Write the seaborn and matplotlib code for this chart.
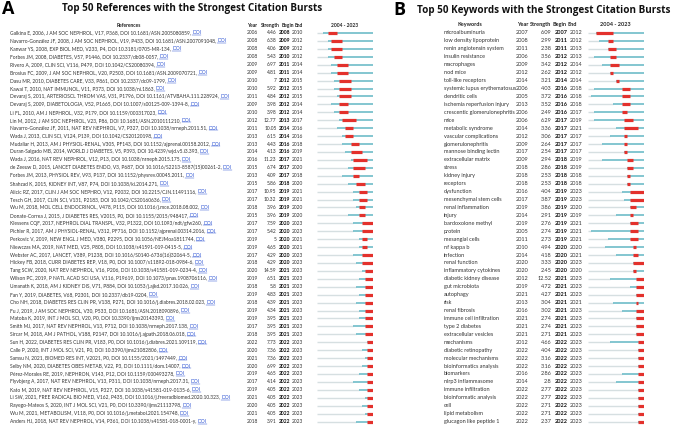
import numpy as np
import matplotlib
matplotlib.use("Agg")
import matplotlib.pyplot as plt
import seaborn as sns

# ---- panel A: references ----
ref_labels = [
    "Galkina E, 2006, J AM SOC NEPHROL, V17, P368, DOI 10.1681/ASN.2005080859,",
    "Navarro-González JF, 2008, J AM SOC NEPHROL, V19, P433, DOI 10.1681/ASN.2007091048,",
    "Kanwar YS, 2008, EXP BIOL MED, V233, P4, DOI 10.3181/0705-MR-134,",
    "Forbes JM, 2008, DIABETES, V57, P1446, DOI 10.2337/db08-0057,",
    "Rivero A, 2009, CLIN SCI, V116, P479, DOI 10.1042/CS20080394,",
    "Brosius FC, 2009, J AM SOC NEPHROL, V20, P2503, DOI 10.1681/ASN.2009070721,",
    "Dasu MR, 2010, DIABETES CARE, V33, P861, DOI 10.2337/dc09-1799,",
    "Kawai T, 2010, NAT IMMUNOL, V11, P373, DOI 10.1038/ni.1863,",
    "Devaraj S, 2011, ARTERIOSCL THROM VAS, V31, P1796, DOI 10.1161/ATVBAHA.111.228924,",
    "Devaraj S, 2009, DIABETOLOGIA, V52, P1665, DOI 10.1007/s00125-009-1394-8,",
    "Li FL, 2010, AM J NEPHROL, V32, P179, DOI 10.1159/000317023,",
    "Lin M, 2012, J AM SOC NEPHROL, V23, P86, DOI 10.1681/ASN.2010111210,",
    "Navarro-González JF, 2011, NAT REV NEPHROL, V7, P327, DOI 10.1038/nrneph.2011.51,",
    "Wada J, 2013, CLIN SCI, V124, P139, DOI 10.1042/CS20120198,",
    "Mudaliar H, 2013, AM J PHYSIOL-RENAL, V305, PF143, DOI 10.1152/ajprenal.00158.2012,",
    "Duran-Salgado MB, 2014, WORLD J DIABETES, V5, P393, DOI 10.4239/wjd.v5.i3.393,",
    "Wada J, 2016, NAT REV NEPHROL, V12, P13, DOI 10.1038/nrneph.2015.175,",
    "de Zeeuw D, 2015, LANCET DIABETES ENDO, V3, P687, DOI 10.1016/S2213-8587(15)00261-2,",
    "Forbes JM, 2013, PHYSIOL REV, V93, P137, DOI 10.1152/physrev.00045.2011,",
    "Shahzad K, 2015, KIDNEY INT, V87, P74, DOI 10.1038/ki.2014.271,",
    "Alicic RZ, 2017, CLIN J AM SOC NEPHRO, V12, P2032, DOI 10.2215/CJN.11491116,",
    "Tesch GH, 2017, CLIN SCI, V131, P2183, DOI 10.1042/CS20160636,",
    "Wu M, 2018, MOL CELL ENDOCRINOL, V478, P115, DOI 10.1016/j.mce.2018.08.002,",
    "Donate-Correa J, 2015, J DIABETES RES, V2015, P0, DOI 10.1155/2015/948417,",
    "Klessens CQF, 2017, NEPHROL DIAL TRANSPL, V32, P1322, DOI 10.1093/ndt/gfw260,",
    "Pichler R, 2017, AM J PHYSIOL-RENAL, V312, PF716, DOI 10.1152/ajprenal.00314.2016,",
    "Perkovic V, 2019, NEW ENGL J MED, V380, P2295, DOI 10.1056/NEJMoa1811744,",
    "Niewczas MA, 2019, NAT MED, V25, P805, DOI 10.1038/s41591-019-0415-5,",
    "Webster AC, 2017, LANCET, V389, P1238, DOI 10.1016/S0140-6736(16)32064-5,",
    "Hickey FB, 2018, CURR DIABETES REP, V18, P0, DOI 10.1007/s11892-018-0984-6,",
    "Tang SCW, 2020, NAT REV NEPHROL, V16, P206, DOI 10.1038/s41581-019-0234-4,",
    "Wilson PC, 2019, P NATL ACAD SCI USA, V116, P19619, DOI 10.1073/pnas.1908706116,",
    "Umanath K, 2018, AM J KIDNEY DIS, V71, P884, DOI 10.1053/j.ajkd.2017.10.026,",
    "Fan Y, 2019, DIABETES, V68, P2301, DOI 10.2337/db19-0204,",
    "Cho NH, 2018, DIABETES RES CLIN PR, V138, P271, DOI 10.1016/j.diabres.2018.02.023,",
    "Fu J, 2019, J AM SOC NEPHROL, V30, P533, DOI 10.1681/ASN.2018090896,",
    "Matoba K, 2019, INT J MOL SCI, V20, P0, DOI 10.3390/ijms20143393,",
    "Smith MJ, 2017, NAT REV NEPHROL, V13, P712, DOI 10.1038/nrneph.2017.138,",
    "Sircar M, 2018, AM J PATHOL, V188, P2147, DOI 10.1016/j.ajpath.2018.06.018,",
    "Sun H, 2022, DIABETES RES CLIN PR, V183, P0, DOI 10.1016/j.diabres.2021.109119,",
    "Calle P, 2020, INT J MOL SCI, V21, P0, DOI 10.3390/ijms21082806,",
    "Samsu N, 2021, BIOMED RES INT, V2021, P0, DOI 10.1155/2021/1497449,",
    "Selby NM, 2020, DIABETES OBES METAB, V22, P3, DOI 10.1111/dom.14007,",
    "Pérez-Morales RE, 2019, NEPHRON, V143, P12, DOI 10.1159/000493278,",
    "Flyvbjerg A, 2017, NAT REV NEPHROL, V13, P311, DOI 10.1038/nrneph.2017.31,",
    "Kato M, 2019, NAT REV NEPHROL, V15, P327, DOI 10.1038/s41581-019-0135-6,",
    "Li SW, 2021, FREE RADICAL BIO MED, V162, P435, DOI 10.1016/j.freeradbiomed.2020.10.323,",
    "Rayego-Mateos S, 2020, INT J MOL SCI, V21, P0, DOI 10.3390/ijms21113798,",
    "Wu M, 2021, METABOLISM, V118, P0, DOI 10.1016/j.metabol.2021.154748,",
    "Anders HJ, 2018, NAT REV NEPHROL, V14, P361, DOI 10.1038/s41581-018-0001-y,",
]
ref_year = [2006, 2008, 2008, 2008, 2009, 2009, 2010, 2010, 2011, 2009,
            2010, 2012, 2011, 2013, 2013, 2014, 2016, 2015, 2013, 2015,
            2017, 2017, 2018, 2015, 2017, 2017, 2019, 2019, 2017, 2018,
            2020, 2019, 2018, 2019, 2018, 2019, 2019, 2017, 2018, 2022,
            2020, 2021, 2020, 2019, 2017, 2019, 2021, 2020, 2021, 2018]
ref_strength = ["4.46", "6.38", "4.06", "5.43", "6.97", "4.81", "7", "5.92", "4.84", "3.98",
                "3.98", "12.77", "10.05", "6.15", "4.43", "4.13", "11.23", "6.74", "4.09", "5.86",
                "10.95", "10.32", "3.96", "3.96", "7.59", "5.42", "5", "4.65", "4.29", "4.29",
                "14.59", "6.51", "5.8", "4.83", "4.39", "4.34", "3.95", "3.95", "3.95", "7.73",
                "7.36", "7.36", "6.99", "4.65", "4.14", "4.05", "4.05", "4.05", "4.05", "3.91"]
ref_begin = [2008, 2009, 2009, 2010, 2011, 2011, 2012, 2012, 2012, 2012,
             2012, 2013, 2014, 2014, 2016, 2016, 2017, 2017, 2017, 2018,
             2019, 2019, 2019, 2019, 2020, 2020, 2020, 2020, 2020, 2020,
             2021, 2021, 2021, 2021, 2021, 2021, 2021, 2021, 2021, 2022,
             2022, 2022, 2022, 2022, 2022, 2022, 2022, 2022, 2022, 2022]
ref_end = [2010, 2012, 2012, 2012, 2014, 2014, 2015, 2015, 2015, 2014,
           2014, 2017, 2016, 2016, 2018, 2019, 2021, 2020, 2018, 2020,
           2021, 2021, 2020, 2020, 2023, 2023, 2021, 2021, 2023, 2023,
           2023, 2023, 2023, 2023, 2023, 2023, 2023, 2023, 2023, 2023,
           2023, 2023, 2023, 2023, 2023, 2023, 2023, 2023, 2023, 2023]

# ---- panel B: keywords ----
kw_labels = [
    "microalbuminuria", "low density lipoprotein", "renin angiotensin system",
    "insulin resistance", "macrophages", "nod mice", "toll-like receptors",
    "systemic lupus erythematosus", "dendritic cells", "ischemia reperfusion injury",
    "crescentic glomerulonephritis", "mice", "metabolic syndrome",
    "vascular complications", "glomerulonephritis", "mannose binding lectin",
    "extracellular matrix", "stress", "kidney injury", "receptors", "dysfunction",
    "mesenchymal stem cells", "renal inflammation", "injury", "bardoxolone methyl",
    "protein", "mesangial cells", "nf kappa b", "infection", "renal function",
    "inflammatory cytokines", "diabetic kidney disease", "gut microbiota",
    "autophagy", "risk", "renal fibrosis", "immune cell infiltration",
    "type 2 diabetes", "extracellular vesicles", "mechanisms", "diabetic retinopathy",
    "molecular mechanisms", "bioinformatics analysis", "biomarkers",
    "nlrp3 inflammasome", "immune infiltration", "bioinformatic analysis", "cell",
    "lipid metabolism", "glucagon like peptide 1",
]
kw_year = [2007, 2008, 2011, 2006, 2009, 2012, 2014, 2006, 2005, 2013,
           2006, 2006, 2014, 2012, 2009, 2017, 2009, 2018, 2018, 2018,
           2016, 2017, 2019, 2014, 2019, 2005, 2011, 2010, 2014, 2020,
           2020, 2012, 2019, 2021, 2013, 2016, 2021, 2021, 2021, 2012,
           2022, 2022, 2022, 2016, 2014, 2022, 2022, 2022, 2022, 2022]
kw_strength = ["6.09", "2.99", "2.38", "3.56", "3.42", "2.62", "3.21", "4.03", "3.72", "3.52",
               "2.49", "6.29", "3.36", "3.06", "2.64", "2.54", "2.94", "2.86", "2.53", "2.53",
               "4.04", "3.87", "3.86", "2.91", "2.76", "2.74", "2.73", "4.94", "4.18", "3.33",
               "2.45", "12.52", "4.72", "4.27", "3.04", "3.02", "2.74", "2.74", "2.71", "4.66",
               "4.04", "3.16", "3.16", "2.86", "2.8", "2.77", "2.77", "2.71", "2.71", "2.37"]
kw_begin = [2007, 2011, 2011, 2012, 2012, 2012, 2014, 2016, 2016, 2016,
            2016, 2017, 2017, 2017, 2017, 2017, 2018, 2018, 2018, 2018,
            2019, 2019, 2019, 2019, 2019, 2019, 2019, 2020, 2020, 2020,
            2020, 2021, 2021, 2021, 2021, 2021, 2021, 2021, 2021, 2022,
            2022, 2022, 2022, 2022, 2022, 2022, 2022, 2022, 2022, 2022]
kw_end = [2012, 2012, 2013, 2013, 2014, 2012, 2014, 2018, 2018, 2018,
          2017, 2019, 2021, 2017, 2017, 2017, 2019, 2019, 2018, 2018,
          2023, 2023, 2020, 2019, 2021, 2021, 2021, 2020, 2021, 2023,
          2020, 2023, 2023, 2023, 2021, 2023, 2023, 2023, 2023, 2023,
          2023, 2023, 2023, 2023, 2023, 2023, 2023, 2023, 2023, 2023]

START, STOP = 2004, 2023
GREY, TEAL, RED = "#d6dfe1", "#62b6c4", "#e3312c"
TXT, LINK = "#333333", "#2f55d4"

sns.set_theme(style="white")
plt.rcParams["font.family"] = ["Lato", "DejaVu Sans"]

W, H = 676, 426
fig = plt.figure(figsize=(W / 100, H / 100), dpi=100)
canvas = fig.add_axes([0, 0, 1, 1])
canvas.set_xlim(0, W)
canvas.set_ylim(H, 0)
canvas.axis("off")

ROW0, ROWH = 33.0, 7.93


def row_y(i):
    return ROW0 + ROWH * i


def burst_axes(x0, x1):
    top = ROW0 - ROWH / 2
    ax = fig.add_axes([x0 / W, 1 - (top + 50 * ROWH) / H, (x1 - x0) / W, 50 * ROWH / H])
    ax.set_xlim(START, STOP + 1)
    ax.set_ylim(49.5, -0.5)
    ax.axis("off")
    return ax


def draw_bursts(ax, year, begin, end):
    rows = np.arange(len(year))
    year, begin, end = np.array(year), np.array(begin), np.array(end)
    ax.hlines(rows, START, year, color=GREY, lw=1.0)
    ax.hlines(rows, year, STOP + 1, color=TEAL, lw=1.1)
    ax.hlines(rows, begin, end + 1, color=RED, lw=2.3)


def draw_table(labels, year, strength, begin, end, cols, heads, fs, head_y):
    lx, yx, sx, bx, ex = cols
    hd = dict(fontsize=fs, fontweight="bold", color="#222222", va="center", ha="center")
    for name, hx in heads:
        canvas.text(hx, head_y, name, **hd)
    texts = []
    for i in range(len(labels)):
        y = row_y(i)
        texts.append(canvas.text(lx, y, labels[i], ha="left", va="center", fontsize=fs, color=TXT))
        canvas.text(yx, y, str(year[i]), ha="center", va="center", fontsize=fs, color=TXT)
        canvas.text(sx, y, strength[i], ha="right", va="center", fontsize=fs, color=TXT)
        canvas.text(bx, y, str(begin[i]), ha="left", va="center", fontsize=fs,
                    fontweight="bold", color="#111111")
        canvas.text(ex, y, str(end[i]), ha="left", va="center", fontsize=fs, color=TXT)
    return texts


span = f"{START} - {STOP}"

# panel A
canvas.text(2, 9, "A", fontsize=13, fontweight="bold", family="Open Sans", va="center", ha="left", color="black")
canvas.text(192, 9, "Top 50 References with the Strongest Citation Bursts", fontsize=7.1,
            fontweight="bold", family="Open Sans", va="center", ha="center", color="#111111")
ref_texts = draw_table(ref_labels, ref_year, ref_strength, ref_begin, ref_end,
                       (10, 252.5, 276.5, 278.5, 292),
                       [("References", 129), ("Year", 252.5), ("Strength", 270.5),
                        ("Begin", 288), ("End", 298.5), (span, 345)],
                       3.5, 25.5)
draw_bursts(burst_axes(317, 373), ref_year, ref_begin, ref_end)

# panel B
canvas.text(393, 10, "B", fontsize=13, fontweight="bold", family="Open Sans", va="center", ha="left", color="black")
canvas.text(544, 10, "Top 50 Keywords with the Strongest Citation Bursts", fontsize=7.1,
            fontweight="bold", family="Open Sans", va="center", ha="center", color="#111111")
draw_table(kw_labels, kw_year, kw_strength, kw_begin, kw_end,
           (444, 522.5, 551.5, 555, 570),
           [("Keywords", 469.5), ("Year", 523), ("Strength", 540), ("Begin", 559.5),
            ("End", 572), (span, 615.5)],
           4.0, 24.5)
draw_bursts(burst_axes(588, 644), kw_year, kw_begin, kw_end)

# blue DOI links after each reference
fig.canvas.draw()
rend = fig.canvas.get_renderer()
inv = canvas.transData.inverted()
for t in ref_texts:
    bb = t.get_window_extent(rend)
    x1, _ = inv.transform((bb.x1, bb.y0))
    y = t.get_position()[1]
    d = canvas.text(x1 + 1.2, y, "DOI", ha="left", va="center", fontsize=3.5, color=LINK)
    db = d.get_window_extent(rend)
    dx0, _ = inv.transform((db.x0, db.y0))
    dx1, _ = inv.transform((db.x1, db.y0))
    canvas.plot([dx0, dx1], [y + 2.1, y + 2.1], color=LINK, lw=0.35)

fig.savefig("out.png", dpi=100)
